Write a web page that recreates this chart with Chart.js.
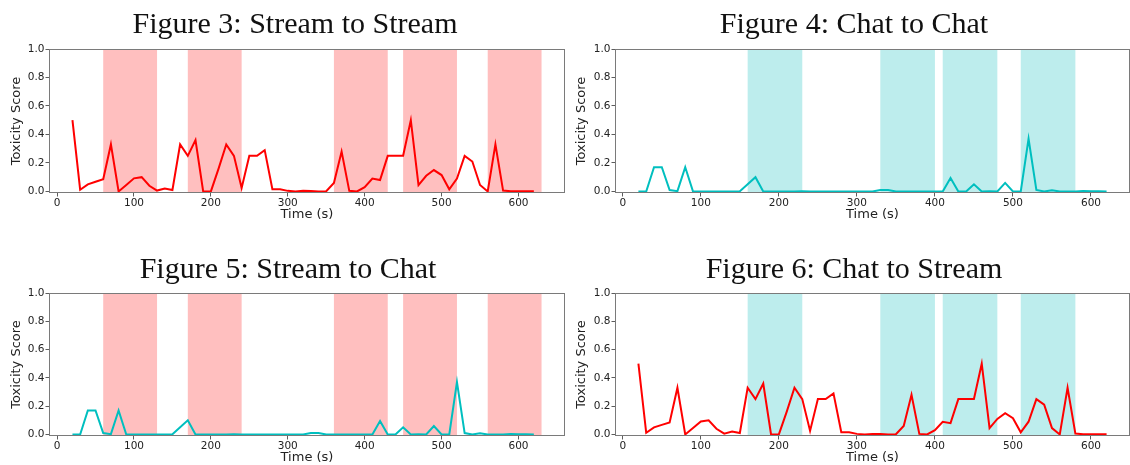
<!DOCTYPE html>
<html>
<head>
<meta charset="utf-8">
<script src="https://cdn.jsdelivr.net/npm/chart.js@4/dist/chart.umd.min.js"></script>
<style>
  html,body{margin:0;padding:0;background:#fff;overflow:hidden;}
  #wrap{position:relative;width:1130px;height:465px;}
  canvas{position:absolute;}
</style>
</head>
<body>
<div id="wrap">
  <canvas id="fig3" width="565" height="232" style="left:0;top:0"></canvas>
  <canvas id="fig4" width="565" height="232" style="left:565px;top:0"></canvas>
  <canvas id="fig5" width="565" height="250" style="left:0;top:232px"></canvas>
  <canvas id="fig6" width="565" height="250" style="left:565px;top:232px"></canvas>
</div>
<script>
// time axis (seconds)
const timeSec = [20,30,40,50,60,70,80,90,100,110,120,130,140,150,160,170,180,190,200,210,
  220,230,240,250,260,270,280,290,300,310,320,330,340,350,360,370,380,390,400,410,
  420,430,440,450,460,470,480,490,500,510,520,530,540,550,560,570,580,590,600,610,620];

// toxicity of the stream transcript
const streamTox = [0.50,0.012,0.05,0.068,0.085,0.33,0.0,0.045,0.092,0.10,0.04,0.006,0.02,0.01,0.33,0.25,0.36,0.0,0.0,0.16,
  0.33,0.25,0.025,0.25,0.25,0.29,0.016,0.015,0.004,0.0,0.004,0.003,0.0,0.002,0.06,0.28,0.004,0.0,0.03,0.09,
  0.08,0.25,0.25,0.25,0.50,0.045,0.11,0.15,0.115,0.015,0.09,0.25,0.21,0.045,0.0,0.33,0.006,0.002,0.002,0.002,0.002];

// toxicity of the chat
const chatTox = [0,0,0.17,0.17,0.01,0.002,0.17,0,0,0,0,0,0,0.002,0.05,0.10,0,0,0,0,
  0,0.002,0,0,0,0,0,0,0,0,0,0.01,0.01,0,0,0,0,0,0,0,
  0.095,0,0,0.05,0,0.002,0,0.06,0,0,0.37,0.01,0,0.008,0,0,0,0.003,0.002,0.002,0];

// highlighted (toxic) windows
const streamSpans = [[60,130],[170,240],[360,430],[450,520],[560,630]];
const chatSpans = [[160,230],[330,400],[410,480],[510,580]];

const xTicks = [0,100,200,300,400,500,600];
const yTicks = [0,0.2,0.4,0.6,0.8,1.0];

const RED = '#ff0000', CYAN = '#00bfbf';
const RED_SPAN = '#ffbfbf', CYAN_SPAN = '#bdeded';

// spans behind the line, frame on top, latex-ish caption above
const figPlugin = {
  id: 'fig',
  beforeDatasetsDraw(chart, args, opts){
    const {ctx, chartArea: a, scales: {x}} = chart;
    ctx.save();
    ctx.beginPath();
    ctx.rect(a.left, a.top, a.right - a.left, a.bottom - a.top);
    ctx.clip();
    ctx.fillStyle = opts.spanColor;
    opts.spans.forEach(([s, e]) => {
      const x0 = x.getPixelForValue(s), x1 = x.getPixelForValue(e);
      ctx.fillRect(x0, a.top, x1 - x0, a.bottom - a.top);
    });
    ctx.restore();
  },
  afterDatasetsDraw(chart){
    const {ctx, chartArea: a} = chart;
    ctx.save();
    ctx.strokeStyle = '#7a7a7a';
    ctx.lineWidth = 1;
    ctx.strokeRect(a.left + 0.5, a.top + 0.5, a.right - a.left - 1, a.bottom - a.top - 1);
    ctx.restore();
  },
  afterDraw(chart, args, opts){
    const ctx = chart.ctx;
    ctx.save();
    ctx.font = '30px "Liberation Serif", serif';
    ctx.fillStyle = '#111';
    ctx.textAlign = 'center';
    ctx.textBaseline = 'alphabetic';
    ctx.fillText(opts.title, opts.titleX, opts.titleY);
    ctx.restore();
  }
};

function makeFig(id, cfg){
  const pts = timeSec.map((t, i) => ({x: t, y: cfg.values[i]}));
  const canvas = document.getElementById(id);
  const tickFont = {family: 'DejaVu Sans', size: 10.5};
  const titleFont = {family: 'DejaVu Sans', size: 13};
  new Chart(canvas.getContext('2d'), {
    type: 'line',
    data: {
      datasets: [{
        data: pts,
        borderColor: cfg.color,
        borderWidth: 2,
        pointRadius: 0,
        tension: 0,
        fill: false
      }]
    },
    options: {
      responsive: false,
      animation: false,
      events: [],
      layout: {padding: {top: cfg.top, left: 0, right: 0, bottom: 0}},
      plugins: {
        legend: {display: false},
        tooltip: {enabled: false},
        fig: {spans: cfg.spans, spanColor: cfg.spanColor, title: cfg.title, titleX: cfg.titleX, titleY: cfg.titleY}
      },
      scales: {
        x: {
          type: 'linear',
          min: cfg.xMin, max: cfg.xMax,
          afterBuildTicks: s => { s.ticks = xTicks.map(v => ({value: v})); },
          afterFit: s => { s.height = canvas.height - cfg.bottom; },
          grid: {drawOnChartArea: false, drawTicks: true, tickLength: 3.5, color: '#333', lineWidth: 0.8},
          border: {display: false},
          ticks: {font: tickFont, color: '#222', padding: 0, maxRotation: 0,
                  callback: v => String(v)},
          title: {display: true, text: 'Time (s)', font: titleFont, color: '#222',
                  padding: {top: 0, bottom: cfg.xTitlePad}}
        },
        y: {
          min: -0.011, max: 1.0,
          afterBuildTicks: s => { s.ticks = yTicks.map(v => ({value: v})); },
          afterFit: s => { s.width = cfg.left; },
          grid: {drawOnChartArea: false, drawTicks: true, tickLength: 3.5, color: '#333', lineWidth: 0.8},
          border: {display: false},
          ticks: {font: tickFont, color: '#222', padding: 1, callback: v => v.toFixed(1)},
          title: {display: true, text: 'Toxicity Score', font: titleFont, color: '#222',
                  padding: {top: 9, bottom: 0}}
        }
      }
    },
    plugins: [figPlugin]
  });
}

makeFig('fig3', {values: streamTox, color: RED, spans: streamSpans, spanColor: RED_SPAN,
  title: 'Figure 3: Stream to Stream', titleX: 295, titleY: 33,
  top: 49, left: 49, bottom: 193, xMin: -10.5, xMax: 660.5, xTitlePad: 10});
makeFig('fig4', {values: chatTox, color: CYAN, spans: chatSpans, spanColor: CYAN_SPAN,
  title: 'Figure 4: Chat to Chat', titleX: 289, titleY: 33,
  top: 49, left: 50, bottom: 193, xMin: -10, xMax: 650, xTitlePad: 10});
makeFig('fig5', {values: chatTox, color: CYAN, spans: streamSpans, spanColor: RED_SPAN,
  title: 'Figure 5: Stream to Chat', titleX: 288, titleY: 46,
  top: 61, left: 49, bottom: 204, xMin: -10.5, xMax: 660.5, xTitlePad: 17});
makeFig('fig6', {values: streamTox, color: RED, spans: chatSpans, spanColor: CYAN_SPAN,
  title: 'Figure 6: Chat to Stream', titleX: 289, titleY: 46,
  top: 61, left: 50, bottom: 204, xMin: -10, xMax: 650, xTitlePad: 17});
</script>
</body>
</html>
